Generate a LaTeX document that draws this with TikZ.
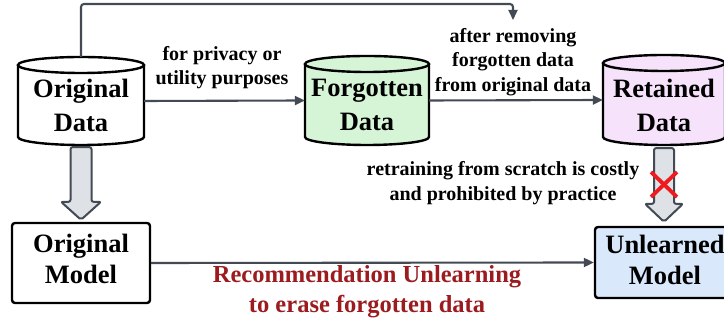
\documentclass[tikz,border=0pt]{standalone}
\usepackage{fontspec}
\setmainfont{Liberation Serif}
\usetikzlibrary{arrows.meta,calc}
\definecolor{lnc}{HTML}{434A54}
\definecolor{blkfill}{HTML}{DEE1E6}
\definecolor{grnfill}{HTML}{D6F5D6}
\definecolor{purfill}{HTML}{F6E2FB}
\definecolor{blufill}{HTML}{DAE8FC}
\definecolor{redtxt}{HTML}{9B1B1E}
\definecolor{xred}{HTML}{EE1A1E}
\newcommand{\cylshape}[6]{% cx, ytop, ybot, rx, ry, fill
  \fill[#6] (#1-#4,#2) -- (#1-#4,#3) arc[start angle=180,end angle=360,x radius=#4,y radius=#5] -- (#1+#4,#2) arc[start angle=0,end angle=180,x radius=#4,y radius=#5] -- cycle;
  \draw[cylline] (#1-#4,#2) -- (#1-#4,#3) arc[start angle=180,end angle=360,x radius=#4,y radius=#5] -- (#1+#4,#2);
  \draw[cylline] (#1,#2) ellipse[x radius=#4,y radius=#5];
}
\begin{document}
\begin{tikzpicture}[x=1pt,y=1pt,
  cylline/.style={line width=2.4pt,black},
  shapenode/.style={inner sep=0pt,draw=none},
  bigtxt/.style={font=\bfseries\fontsize{26.5}{34}\selectfont,align=center,inner sep=0pt},
  smalltxt/.style={font=\bfseries\fontsize{20}{24.5}\selectfont,align=center,inner sep=0pt},
  redlab/.style={font=\bfseries\fontsize{24.5}{30}\selectfont,align=center,inner sep=0pt,text=redtxt},
  modelbox/.style={draw=black,line width=2.4pt,rounded corners=3pt,align=center,inner sep=0pt},
  modeltxt/.style={font=\bfseries\fontsize{26.5}{31}\selectfont,align=center,inner sep=0pt},
  conn/.style={draw=lnc,line width=2.1pt,-{Triangle[length=10pt,width=9pt]}},
  blockarr/.style={draw=lnc,fill=blkfill,line width=2pt,rounded corners=2pt,line join=round},
]
\useasboundingbox (0,0) rectangle (724,328);

% cylinders
\cylshape{81}{263}{191}{63}{8}{white}
\cylshape{367}{264}{191}{62}{8}{grnfill}
\cylshape{664}{265}{191}{61}{8}{purfill}

\node[shapenode,minimum width=126pt,minimum height=88pt] (od) at (81,227) {};
\node[shapenode,minimum width=124pt,minimum height=89pt] (fd) at (367,227.5) {};
\node[shapenode,minimum width=122pt,minimum height=90pt] (rd) at (664,228) {};

\node[bigtxt] (odt) at (81,223) {Original\\Data};
\node[bigtxt] (fdt) at (367,223) {Forgotten\\Data};
\node[bigtxt] (rdt) at (664,223) {Retained\\Data};

% model boxes
\node[modelbox,minimum width=138pt,minimum height=80pt] (om) at (81,65) {};
\node[modelbox,fill=blufill,minimum width=140pt,minimum height=71pt] (um) at (665,65.5) {};
\node[modeltxt] (omt) at (81,69) {Original\\Model};
\node[modeltxt] (umt) at (665,68) {Unlearned\\Model};

% labels
\node[smalltxt] (l1) at (222,260.5) {for privacy or\\utility purposes};
\node[smalltxt] (l2) at (513,266) {after removing\\forgotten data\\from original data};
\node[smalltxt] (l3) at (503,145) {retraining from scratch is costly\\and prohibited by practice};
\node[redlab] (l4) at (367,36) {Recommendation Unlearning\\to erase forgotten data};

% connectors
\coordinate (tip) at (513,308);
\draw[conn,rounded corners=3pt] (od.north) -- (81,324) -- (513,324) -- (tip);
\draw[conn] (od.east) -- (fd.west);
\draw[conn] (fd.east) -- (rd.west);
\draw[conn] (om.east) -- (um.west);

% block arrows
\draw[blockarr] let \p1=(od.south), \p2=(om.north) in
  (\x1-10.5pt,\y1-2pt) -- (\x1-10.5pt,\y2+20pt) -- (\x1-20pt,\y2+20pt) -- (\x1,\y2+2pt)
  -- (\x1+20pt,\y2+20pt) -- (\x1+10.5pt,\y2+20pt) -- (\x1+10.5pt,\y1-2pt) -- cycle;
\draw[blockarr] let \p1=(rd.south), \p2=(um.north) in
  (\x1-10pt,\y1-3pt) -- (\x1-10pt,\y2+22pt) -- (\x1-19pt,\y2+22pt) -- (\x1,\y2+4pt)
  -- (\x1+19pt,\y2+22pt) -- (\x1+10pt,\y2+22pt) -- (\x1+10pt,\y1-3pt) -- cycle;

% red cross
\draw[xred,line width=3.8pt] (651,156) -- (677,131);
\draw[xred,line width=3.8pt] (651,131) -- (677,156);
\end{tikzpicture}
\end{document}
